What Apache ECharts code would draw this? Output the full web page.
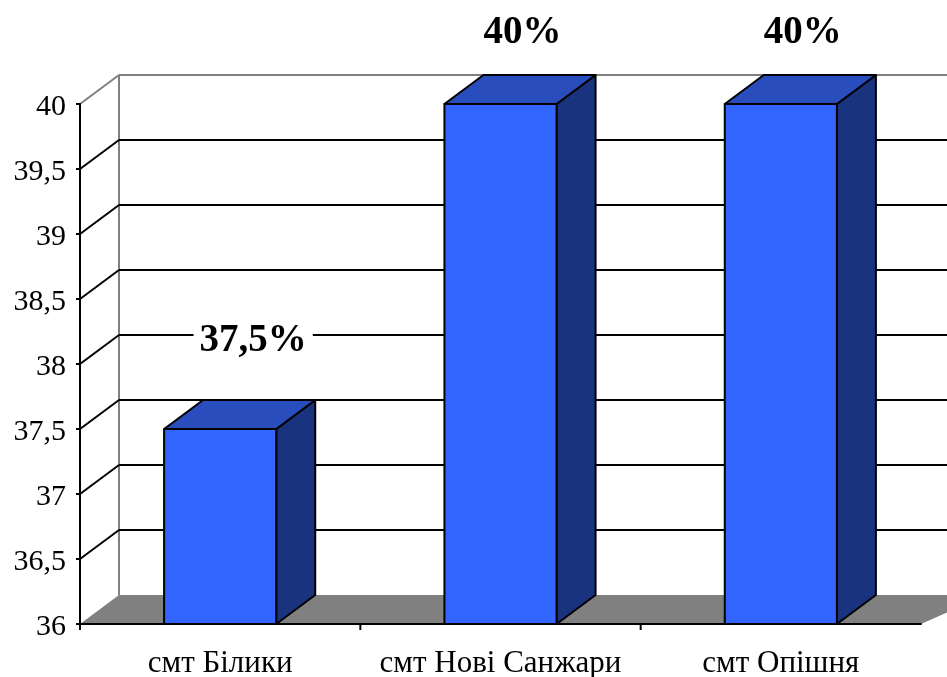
<!DOCTYPE html>
<html>
<head>
<meta charset="utf-8">
<title>chart</title>
<script src="https://cdn.jsdelivr.net/npm/echarts@6/dist/echarts.min.js"></script>
<style>
html,body{margin:0;padding:0;background:#fff;}
#main{width:947px;height:677px;}
</style>
</head>
<body>
<div id="main"></div>
<script>
var categories = ['смт Білики', 'смт Нові Санжари', 'смт Опішня'];
var percentValues = [37.5, 40, 40];
var gridValues = [36.5, 37, 37.5, 38, 38.5, 39, 39.5];

// глибина псевдо-3D
var DX = 39, DY = 29;
// зсув підписів відносно верху стовпчика
var labelShift = [[33, -88], [22, -71], [22, -71]];

var chart = echarts.init(document.getElementById('main'));

function poly(points, fill, stroke, width) {
  return {
    type: 'polygon',
    shape: { points: points },
    style: { fill: fill, stroke: stroke, lineWidth: width, lineJoin: 'round' }
  };
}
function line(x1, y1, x2, y2, color) {
  return {
    type: 'line',
    shape: { x1: x1, y1: y1, x2: x2, y2: y2 },
    style: { stroke: color, lineWidth: 2 }
  };
}

// стіна, підлога і поділки осі x (останньої поділки в оригіналі немає)
function renderWall(params, api) {
  var c = params.coordSys;
  var W = api.getWidth();
  var left = c.x, right = c.x + c.width, top = c.y, bottom = c.y + c.height;
  var children = [
    poly([[left, bottom], [left + DX, bottom - DY], [W + 40, bottom - DY], [right, bottom]], '#808080', 'none', 0),
    line(left + DX, top - DY, left + DX, bottom - DY, '#808080'),
    line(left + DX, top - DY, W, top - DY, '#808080'),
    line(left, top, left + DX, top - DY, '#808080')
  ];
  var step = api.size([1, 0])[0];
  categories.forEach(function (name, i) {
    var x = api.coord([i, 36])[0] - step / 2;
    children.push(line(x, bottom, x, bottom + 6, '#000'));
  });
  return { type: 'group', children: children };
}

// горизонтальні лінії сітки
function renderGrid(params, api) {
  var c = params.coordSys;
  var y = api.coord([0, api.value(0)])[1];
  return {
    type: 'group',
    children: [
      line(c.x, y, c.x + DX, y - DY, '#000'),
      line(c.x + DX, y - DY, api.getWidth(), y - DY, '#000')
    ]
  };
}

function renderBar(params, api) {
  var idx = api.value(0);
  var val = api.value(1);
  var p = api.coord([idx, val]);
  var base = api.coord([idx, 36]);
  var w = api.size([1, 0])[0] * 0.4;
  var l = p[0] - w / 2, r = p[0] + w / 2, t = p[1], b = base[1];
  return {
    type: 'group',
    children: [
      poly([[r, t], [r + DX, t - DY], [r + DX, b - DY], [r, b]], '#19337f', '#000', 2),
      poly([[l, t], [l + DX, t - DY], [r + DX, t - DY], [r, t]], '#2a4dbd', '#000', 2),
      poly([[l, t], [r, t], [r, b], [l, b]], '#3366ff', '#000', 2)
    ]
  };
}

function renderLabel(params, api) {
  var idx = api.value(0);
  var val = api.value(1);
  var p = api.coord([idx, val]);
  var s = labelShift[idx];
  return {
    type: 'text',
    x: p[0] + s[0],
    y: p[1] + s[1],
    style: {
      text: String(val).replace('.', ',') + '%',
      fill: '#000',
      font: 'bold 39px "Liberation Serif"',
      align: 'center',
      verticalAlign: 'middle',
      backgroundColor: '#fff',
      padding: [0, 6]
    }
  };
}

var barData = percentValues.map(function (v, i) { return [i, v]; });

chart.setOption({
  animation: false,
  backgroundColor: '#fff',
  grid: { left: 80, right: 26, top: 104, bottom: 53, outerBoundsMode: 'none' },
  xAxis: {
    type: 'category',
    data: categories,
    z: 5,
    axisLine: { lineStyle: { color: '#000', width: 2 } },
    axisTick: { show: false },
    axisLabel: {
      interval: 0,
      margin: 24,
      color: '#000',
      fontFamily: 'Liberation Serif',
      fontSize: 31
    }
  },
  yAxis: {
    type: 'value',
    min: 36,
    max: 40,
    interval: 0.5,
    z: 5,
    splitLine: { show: false },
    axisLine: { show: true, lineStyle: { color: '#000', width: 2 } },
    axisTick: { show: true, length: 4, lineStyle: { color: '#000', width: 2 } },
    axisLabel: {
      margin: 14,
      formatter: function (v) { return '{v|' + String(v).replace('.', ',') + '}'; },
      rich: {
        v: {
          color: '#000',
          fontFamily: 'Liberation Serif',
          fontSize: 30,
          padding: [6, 0, 0, 0]
        }
      }
    }
  },
  series: [
    { type: 'custom', silent: true, z: 1, renderItem: renderWall, data: [0], encode: { x: -1, y: -1 } },
    { type: 'custom', silent: true, z: 2, renderItem: renderGrid, data: gridValues.map(function (v) { return [v]; }), encode: { x: -1, y: 0 } },
    { type: 'custom', silent: true, z: 3, renderItem: renderBar, data: barData, encode: { x: 0, y: 1 } },
    { type: 'custom', silent: true, z: 4, renderItem: renderLabel, data: barData, encode: { x: 0, y: 1 } }
  ]
});
</script>
</body>
</html>
